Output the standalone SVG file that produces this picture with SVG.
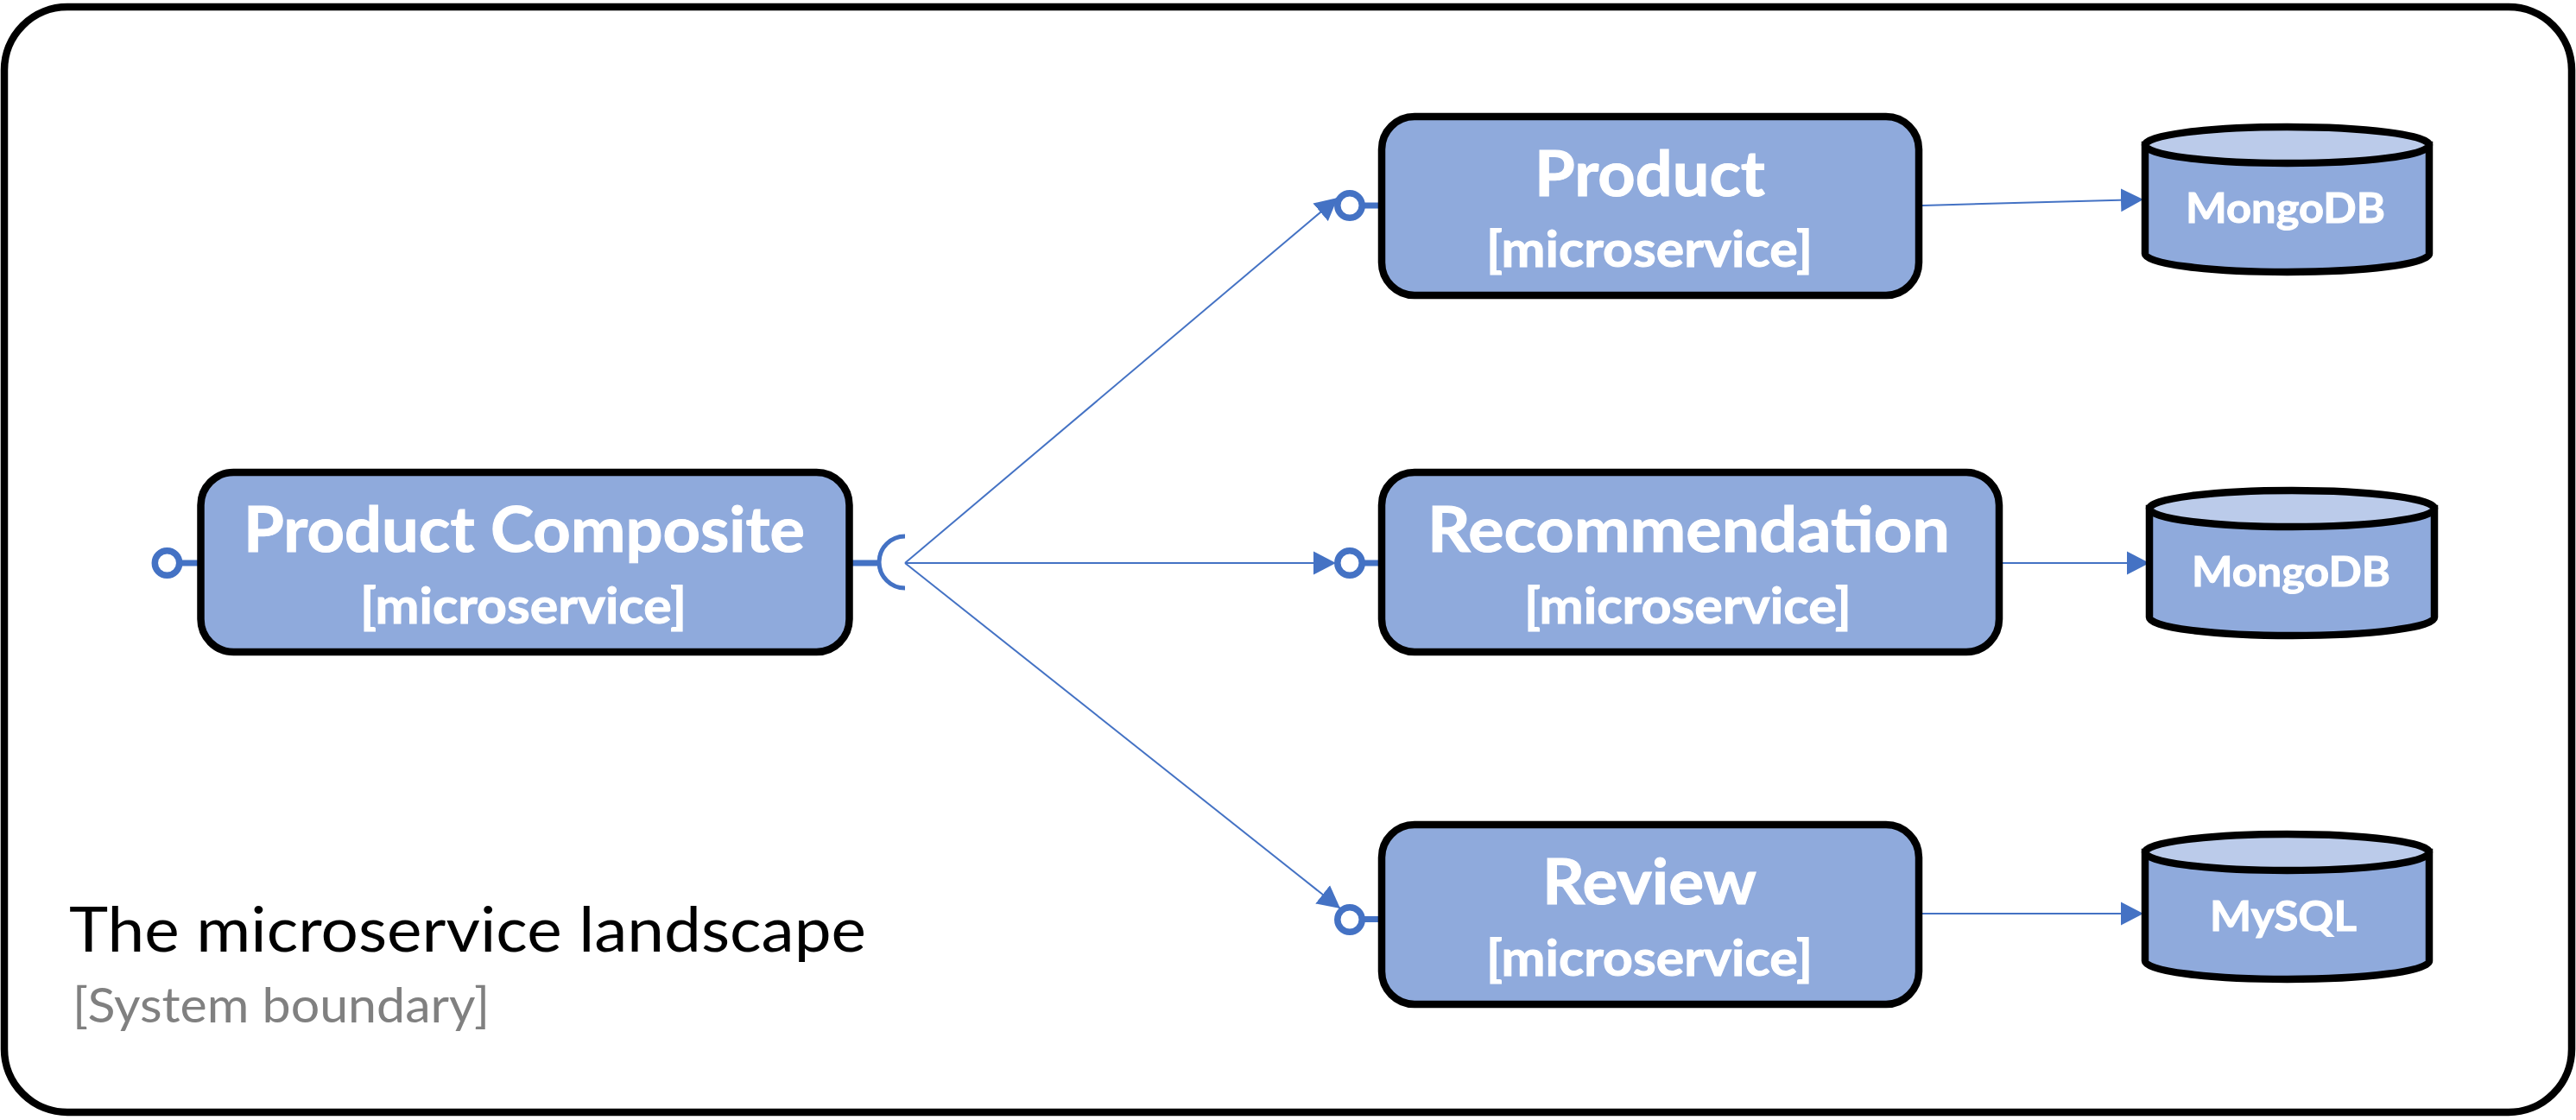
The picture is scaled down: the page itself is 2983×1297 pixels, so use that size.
<svg xmlns="http://www.w3.org/2000/svg" width="2983" height="1297" viewBox="0 0 2983 1297">
<style>
text{font-family:Lato,"Open Sans","Liberation Sans",sans-serif}
.box{fill:#8FAADC;stroke:#000;stroke-width:8.500}
.top{fill:#BBCBEA;stroke:#000;stroke-width:8.500}
.t{fill:#fff;stroke:#fff;stroke-width:1;font-weight:700;font-size:73px}
.s{fill:#fff;stroke:#fff;stroke-width:1;font-weight:700;font-size:58px}
.d{fill:#fff;stroke:#fff;stroke-width:1;font-weight:700;font-size:48px}
.port{fill:#fff;stroke:#4472C4;stroke-width:7.500}
.stub{stroke:#4472C4;stroke-width:7;fill:none}
.c{stroke:#4472C4;stroke-width:2;fill:none}
</style>
<defs>
<marker id="a" markerUnits="userSpaceOnUse" markerWidth="28" markerHeight="28" refX="26" refY="14" orient="auto"><path d="M0 0.500L26 14L0 27.500Z" fill="#4472C4"/></marker>
</defs>
<g id="boundary">
<rect x="5" y="8" width="2973" height="1280" rx="73" ry="73" fill="#fff" stroke="#000" stroke-width="8.500"/>
<text x="80" y="1102" font-size="72" fill="#000" textLength="923" lengthAdjust="spacingAndGlyphs">The microservice landscape</text>
<text x="84" y="1184" font-size="57" fill="#808080" textLength="483" lengthAdjust="spacingAndGlyphs">[System boundary]</text>
</g>
<g id="connectors">
<path class="c" marker-end="url(#a)" d="M1048 652L1549 229"/>
<path class="c" marker-end="url(#a)" d="M1048 652H1547"/>
<path class="c" marker-end="url(#a)" d="M1048 652L1552 1052"/>
<path class="c" marker-end="url(#a)" d="M2226 238L2482 231"/>
<path class="c" marker-end="url(#a)" d="M2319 652H2489"/>
<path class="c" marker-end="url(#a)" d="M2226 1058H2482"/>
</g>
<g id="product-composite">
<path class="stub" d="M208 652H232M983 652H1017"/>
<circle class="port" cx="193.500" cy="652" r="14.200"/>
<path d="M1048 621A30 30 0 0 0 1048 681" fill="none" stroke="#4472C4" stroke-width="5"/>
<rect class="box" x="232.500" y="547" width="751" height="208" rx="38"/>
<text class="t" x="282" y="639" textLength="650" lengthAdjust="spacingAndGlyphs">Product Composite</text>
<text class="s" x="417" y="722" textLength="378" lengthAdjust="spacingAndGlyphs">[microservice]</text>
</g>
<g id="product">
<path class="stub" d="M1578 238H1600"/>
<circle class="port" cx="1563" cy="238" r="14.200"/>
<rect class="box" x="1600" y="135" width="622" height="207" rx="38"/>
<text class="t" x="1777" y="227" textLength="267" lengthAdjust="spacingAndGlyphs">Product</text>
<text class="s" x="1721" y="309" textLength="378" lengthAdjust="spacingAndGlyphs">[microservice]</text>
</g>
<g id="recommendation">
<path class="stub" d="M1578 652H1600"/>
<circle class="port" cx="1563" cy="652" r="14.200"/>
<rect class="box" x="1600" y="547" width="715" height="208" rx="38"/>
<text class="t" x="1653" y="639" textLength="605" lengthAdjust="spacingAndGlyphs">Recommendation</text>
<text class="s" x="1765" y="722" textLength="379" lengthAdjust="spacingAndGlyphs">[microservice]</text>
</g>
<g id="review">
<path class="stub" d="M1578 1064.500H1600"/>
<circle class="port" cx="1563" cy="1065" r="14.200"/>
<rect class="box" x="1600" y="955" width="622" height="208" rx="38"/>
<text class="t" x="1786" y="1047" textLength="248" lengthAdjust="spacingAndGlyphs">Review</text>
<text class="s" x="1721" y="1130" textLength="378" lengthAdjust="spacingAndGlyphs">[microservice]</text>
</g>
<g id="db-product">
<path class="box" d="M2484 168V294A164.500 21 0 0 0 2813 294V168Z"/>
<ellipse class="top" cx="2648.500" cy="168" rx="164.500" ry="21"/>
<text class="d" x="2531" y="258" textLength="231" lengthAdjust="spacingAndGlyphs">MongoDB</text>
</g>
<g id="db-recommendation">
<path class="box" d="M2489 589V715A165 21 0 0 0 2819 715V589Z"/>
<ellipse class="top" cx="2654" cy="589" rx="165" ry="21"/>
<text class="d" x="2538" y="679" textLength="230" lengthAdjust="spacingAndGlyphs">MongoDB</text>
</g>
<g id="db-review">
<path class="box" d="M2484 987V1113A164.500 21 0 0 0 2813 1113V987Z"/>
<ellipse class="top" cx="2648.500" cy="987" rx="164.500" ry="21"/>
<text class="d" x="2559" y="1078" textLength="170" lengthAdjust="spacingAndGlyphs">MySQL</text>
</g>
</svg>
